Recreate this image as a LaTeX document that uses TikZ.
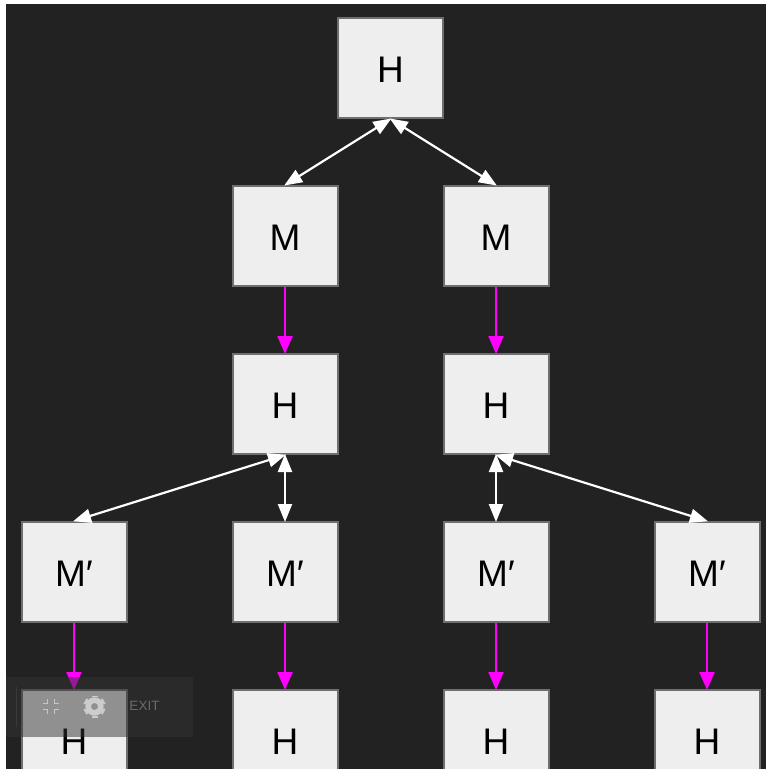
\documentclass[tikz,border=0pt]{standalone}
\usepackage{fontspec}
\setmainfont{Liberation Sans}
\usetikzlibrary{arrows.meta}
\definecolor{bgdark}{HTML}{222222}
\definecolor{boxfill}{HTML}{EEEEEE}
\definecolor{boxline}{HTML}{6E6E6E}
\definecolor{magentaarrow}{HTML}{FF00FF}
\tikzset{
  box/.style={draw=boxline,line width=2pt,fill=boxfill,minimum width=105pt,minimum height=100pt,inner sep=0pt,text=black,text height=28pt,text depth=0pt,font=\fontsize{37}{37}\selectfont},
  dual/.style={draw=white,line width=2.2pt,{Triangle[length=18pt,width=14pt]}-{Triangle[length=18pt,width=14pt]},shorten <=-1pt,shorten >=-1pt},
  single/.style={draw=magentaarrow,line width=2.2pt,-{Triangle[length=18pt,width=15pt]},shorten >=-1pt}
}
\begin{document}
\begin{tikzpicture}[x=1pt,y=-1pt]
\useasboundingbox (0,0) rectangle (766,769);
\clip (0,0) rectangle (766,769);
\fill[white] (0,0) rectangle (766,769);
\fill[bgdark] (6,4) rectangle (766,769);
\node[box] (h0) at (390.5,68) {H};
\node[box] (m1) at (285,236) {M};
\node[box] (m2) at (496,236) {M};
\node[box] (h1) at (285,404) {H};
\node[box] (h2) at (496,404) {H};
\node[box] (p1) at (74,572) {M′};
\node[box] (p2) at (285,572) {M′};
\node[box] (p3) at (496,572) {M′};
\node[box] (p4) at (707,572) {M′};
\node[box] (b1) at (74,740) {H};
\node[box] (b2) at (285,740) {H};
\node[box] (b3) at (496,740) {H};
\node[box] (b4) at (707,740) {H};
\draw[dual] (h0.south) -- (m1.north);
\draw[dual] (h0.south) -- (m2.north);
\draw[single] (m1.south) -- (h1.north);
\draw[single] (m2.south) -- (h2.north);
\draw[dual] (h1.south) -- (p1.north);
\draw[dual] (h1.south) -- (p2.north);
\draw[dual] (h2.south) -- (p3.north);
\draw[dual] (h2.south) -- (p4.north);
\draw[single] (p1.south) -- (b1.north);
\draw[single] (p2.south) -- (b2.north);
\draw[single] (p3.south) -- (b3.north);
\draw[single] (p4.south) -- (b4.north);
% translucent player toolbar over the lower left
\fill[fill=black!80!white,fill opacity=0.5] (6,677) rectangle (193,737);
\draw[white,opacity=0.08,line width=1pt] (16.5,687) -- (16.5,727);
% compress icon
\draw[white,opacity=0.5,line width=1.8pt]
  (47.5,699) -- (47.5,703.5) -- (43,703.5)
  (54.5,699) -- (54.5,703.5) -- (59,703.5)
  (47.5,714) -- (47.5,709.5) -- (43,709.5)
  (54.5,714) -- (54.5,709.5) -- (59,709.5);
% gear icon
\fill[white,opacity=0.55,even odd rule]
  (94.5,706.5) circle[radius=9.2]
  (94.5,706.5) circle[radius=3.6];
\foreach \a in {0,60,...,300}{
  \fill[white,opacity=0.55,rotate around={\a:(94.5,706.5)}] (91.5,695.5) rectangle (97.5,697.4);
}
\node[text=white,text opacity=0.3,font=\fontsize{13.5}{13.5}\selectfont,inner sep=0pt] (exit) at (144.5,706) {EXIT};
\end{tikzpicture}
\end{document}
